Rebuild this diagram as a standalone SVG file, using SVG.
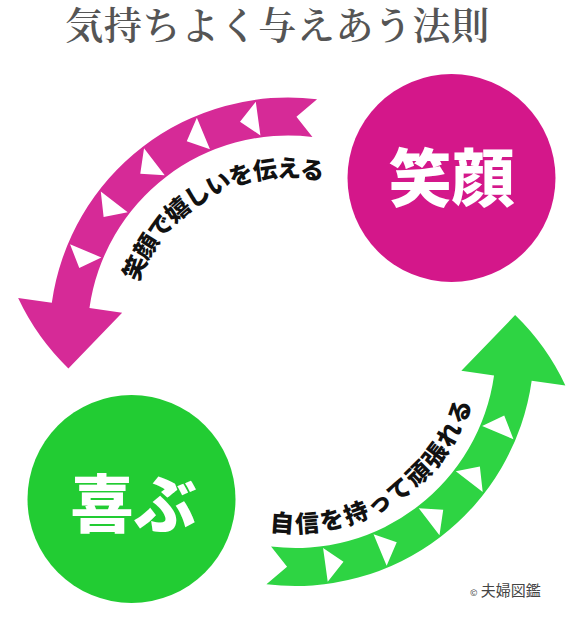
<svg xmlns="http://www.w3.org/2000/svg" xmlns:xlink="http://www.w3.org/1999/xlink" width="582" height="621" viewBox="0 0 582 621">
<style>
.bg{fill:#ffffff}
.notch{fill:#ffffff}
.arc-label{font-family:"Noto Sans CJK JP","Noto Sans CJK SC",sans-serif;font-weight:900;font-size:24px;fill:#111111}
.node-label{font-family:"Noto Sans CJK JP","Noto Sans CJK SC",sans-serif;font-weight:900;font-size:63px;fill:#ffffff;text-anchor:middle}
.title{font-family:"Noto Serif CJK JP","Noto Sans CJK JP",serif;font-weight:600;font-size:38px;fill:#555555;text-anchor:middle;letter-spacing:0.6px}
.credit{font-family:"Noto Sans CJK JP","Noto Sans CJK SC",sans-serif;font-size:15px;fill:#444444}
</style>
<defs>
<g id="arrowShape">
<path d="M317.07,99.28 A238.5,238.5 0 0 0 51.82,302.81 L18.15,298.07 Q36.8,337.9 68.38,368.43 L122.13,312.69 L89.45,308.10 A200.5,200.5 0 0 1 312.43,136.99 L296.43,116.66 Z"/>
<path class="notch" d="M255.78,101.70 L260.42,135.39 L240.01,121.81 Z M196.86,117.77 L209.96,149.14 L186.75,141.25 Z M144.03,148.37 L164.73,175.35 L140.27,173.65 Z M100.79,191.48 L127.70,212.26 L103.63,216.88 Z M70.03,244.23 L101.36,257.42 L79.28,268.05 Z"/>
</g>
<path id="arcM" d="M129.61,322.14 A159,159 0 0 1 360.18,194.33"/>
<path id="arcG" d="M224.70,518.42 A185,185 0 0 0 480.32,355.57"/>
</defs>
<rect class="bg" x="0" y="0" width="582" height="621"/>
<text class="title" x="277.5" y="39">気持ちよく与えあう法則</text>
<g id="connectors">
<use xlink:href="#arrowShape" href="#arrowShape" fill="#D62A97"/>
<use xlink:href="#arrowShape" href="#arrowShape" fill="#2ED443" transform="rotate(180 291.75 341.75)"/>
<text class="arc-label" letter-spacing="-1"><textPath xlink:href="#arcM" href="#arcM" startOffset="50%" text-anchor="middle">笑顔で嬉しいを伝える</textPath></text>
<text class="arc-label" letter-spacing="2.3"><textPath xlink:href="#arcG" href="#arcG" startOffset="50%" text-anchor="middle">自信を持って頑張れる</textPath></text>
</g>
<g id="node-egao">
<circle cx="451.5" cy="178" r="104" fill="#D4178A"/>
<text class="node-label" x="451.5" y="201">笑顔</text>
</g>
<g id="node-yorokobu">
<circle cx="131.5" cy="499" r="104" fill="#22CC33"/>
<text class="node-label" x="133.5" y="527">喜ぶ</text>
</g>
<text class="credit" x="470" y="596"><tspan font-size="9">©</tspan> 夫婦図鑑</text>
</svg>
